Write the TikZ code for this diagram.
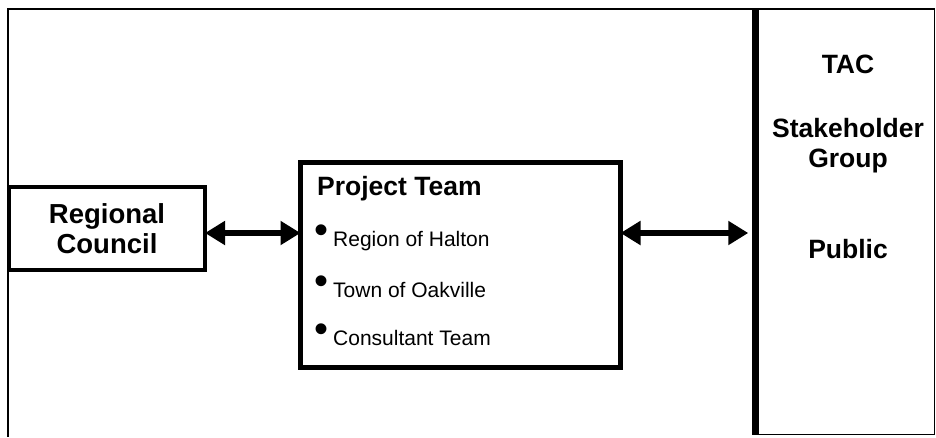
\documentclass[tikz,border=0pt]{standalone}
\usepackage{fontspec}
\setmainfont{Liberation Sans}
\usetikzlibrary{arrows.meta,positioning}

\newcommand{\blt}{\makebox[9pt]{\raisebox{2.4pt}{\fontsize{40}{40}\selectfont\textbullet}}\hspace{7pt}}

\begin{document}
\begin{tikzpicture}[x=1pt,y=-1pt,
                    box/.style={draw,outer sep=0pt,inner sep=0pt},
                    head/.style={font=\fontsize{26.5}{30}\selectfont\bfseries,align=center},
                    item/.style={font=\fontsize{21}{24}\selectfont,anchor=base west,inner sep=0pt},
                    dbl/.style={{Triangle[width=23pt,length=20pt]}-{Triangle[width=23pt,length=20pt]},line width=6pt}]

  \useasboundingbox (0,0) rectangle (936,437);

  % boxes
  \node[box,head,font=\fontsize{27.5}{30}\selectfont\bfseries,line width=4pt,
        minimum width=196pt,minimum height=83pt] (council) at (107,228.5) {Regional\\Council};
  \node[box,line width=5.5pt,minimum width=320pt,minimum height=205pt] (team) at (460.5,265) {};
  \node[box,line width=1.5pt,minimum width=181.5pt,minimum height=425.5pt] (others) at (843.5,221.5) {};
  \draw[line width=6pt] ([xshift=3pt]others.north west) -- ([xshift=3pt]others.south west);
  \draw[line width=2pt] (others.north west) -| (8,437);

  % project team
  \node[item,font=\fontsize{26.5}{30}\selectfont\bfseries] (teamtitle) at (317,195) {Project Team};
  \node[item] (halton)     at (317,246) {\blt Region of Halton};
  \node[item] (oakville)   at (317,297) {\blt Town of Oakville};
  \node[item] (consultant) at (317,345) {\blt Consultant Team};

  % others
  \node[head,anchor=base] (tac)    at (848,73)  {TAC};
  \node[head]             (stake)  at (848,146) {Stakeholder\\Group};
  \node[head,anchor=base] (public) at (848,258) {Public};

  % links
  \coordinate (mid) at (0,233);
  \draw[dbl] (council.east |- mid) -- (team.west |- mid);
  \draw[dbl,shorten >=4.5pt] (team.east |- mid) -- (others.west |- mid);

\end{tikzpicture}
\end{document}
